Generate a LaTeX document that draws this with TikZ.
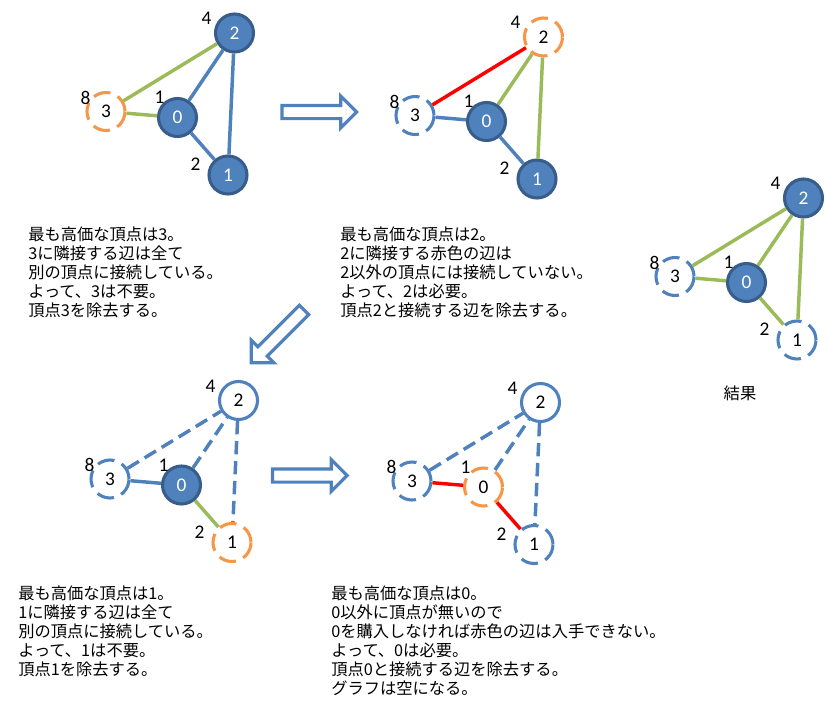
\documentclass[tikz,border=0pt]{standalone}
\usepackage{fontspec}
\setmainfont{Noto Sans CJK JP}
\newfontfamily\numfont{Carlito}
\usepackage{tikz}
\usetikzlibrary{shapes.arrows}
\definecolor{vblue}{HTML}{4F81BD}
\definecolor{vdark}{HTML}{385D8A}
\definecolor{vorange}{HTML}{F79646}
\definecolor{vgreen}{HTML}{9BBB59}
\definecolor{vred}{HTML}{FF0000}

\begin{document}
\begin{tikzpicture}[
    x=0.75pt,
    y=-0.75pt,
    vertex/.style={
        circle,
        minimum size=28.5pt,
        inner sep=0pt,
        line width=2.3pt,
        font=\numfont\fontsize{14.5}{16}\selectfont
    },
    bought/.style={vertex, draw=vdark, fill=vblue, text=white},
    kept/.style={vertex, draw=vblue, fill=white},
    gone/.style={vertex, draw=vblue, fill=white, dash pattern=on 13pt off 6pt},
    focus/.style={vertex, draw=vorange, fill=white, dash pattern=on 13pt off 6pt},
    weight/.style={inner sep=0pt, font=\numfont\fontsize{14.5}{16}\selectfont},
    blueedge/.style={vblue, line width=2.6pt},
    greenedge/.style={vgreen, line width=2.6pt},
    rededge/.style={vred, line width=2.6pt},
    dropedge/.style={vblue, line width=2.6pt, dash pattern=on 10pt off 5pt},
    stepnote/.style={
        anchor=north west,
        inner sep=0pt,
        align=left,
        font=\fontsize{12.2}{14.25}\selectfont
    },
    bigarrow/.style={
        single arrow,
        draw=vblue,
        fill=white,
        line width=2.4pt,
        inner xsep=0pt,
        inner ysep=3.75pt,
        minimum height=56pt,
        single arrow head extend=7pt
    }
]
\useasboundingbox (0,0) rectangle (826,719);

% step 1: vertex 3
\begin{scope}[shift={(177.5,117.5)}, name prefix=a-]
\node[bought] (v0) at (0,0) {0};
\node[bought] (v1) at (50.5,57.5) {1};
\node[bought] (v2) at (57,-84.5) {2};
\node[focus] (v3) at (-71.5,-6) {3};
\node[weight] (w0) at (-18,-20) {1};
\node[weight] (w1) at (18,47) {2};
\node[weight] (w2) at (29,-99) {4};
\node[weight] (w3) at (-92,-20) {8};
\draw[greenedge] (v3) -- (v2);
\draw[greenedge] (v3) -- (v0);
\draw[blueedge] (v0) -- (v2);
\draw[blueedge] (v2) -- (v1);
\draw[blueedge] (v0) -- (v1);
\end{scope}

% step 2: vertex 2
\begin{scope}[shift={(486.5,121.5)}, name prefix=b-]
\node[bought] (v0) at (0,0) {0};
\node[bought] (v1) at (50.5,57.5) {1};
\node[focus] (v2) at (57,-84.5) {2};
\node[gone] (v3) at (-71.5,-6) {3};
\node[weight] (w0) at (-18,-20) {1};
\node[weight] (w1) at (18,47) {2};
\node[weight] (w2) at (29,-99) {4};
\node[weight] (w3) at (-92,-20) {8};
\draw[rededge] (v3) -- (v2);
\draw[greenedge] (v2) -- (v0);
\draw[greenedge] (v2) -- (v1);
\draw[blueedge] (v3) -- (v0);
\draw[blueedge] (v0) -- (v1);
\end{scope}

% result
\begin{scope}[shift={(746.5,282.5)}, name prefix=c-]
\node[bought] (v0) at (0,0) {0};
\node[gone] (v1) at (50.5,57.5) {1};
\node[bought] (v2) at (57,-84.5) {2};
\node[gone] (v3) at (-71.5,-6) {3};
\node[weight] (w0) at (-18,-20) {1};
\node[weight] (w1) at (18,47) {2};
\node[weight] (w2) at (29,-99) {4};
\node[weight] (w3) at (-92,-20) {8};
\draw[greenedge] (v3) -- (v2);
\draw[greenedge] (v3) -- (v0);
\draw[greenedge] (v2) -- (v0);
\draw[greenedge] (v2) -- (v1);
\draw[greenedge] (v0) -- (v1);
\end{scope}
\node (result) at (740,393) {\fontsize{12.2}{14.25}\selectfont 結果};

% step 3: vertex 1
\begin{scope}[shift={(181.5,485)}, name prefix=d-]
\node[bought] (v0) at (0,0) {0};
\node[focus] (v1) at (50.5,57.5) {1};
\node[kept] (v2) at (57,-84.5) {2};
\node[gone] (v3) at (-71.5,-6) {3};
\node[weight] (w0) at (-18,-20) {1};
\node[weight] (w1) at (18,47) {2};
\node[weight] (w2) at (29,-99) {4};
\node[weight] (w3) at (-92,-20) {8};
\draw[dropedge] (v3) -- (v2);
\draw[dropedge] (v0) -- (v2);
\draw[dropedge] (v2) -- (v1);
\draw[blueedge] (v3) -- (v0);
\draw[greenedge] (v0) -- (v1);
\end{scope}

% step 4: vertex 0
\begin{scope}[shift={(483.5,487)}, name prefix=e-]
\node[focus] (v0) at (0,0) {0};
\node[gone] (v1) at (50.5,57.5) {1};
\node[kept] (v2) at (57,-84.5) {2};
\node[gone] (v3) at (-71.5,-6) {3};
\node[weight] (w0) at (-18,-20) {1};
\node[weight] (w1) at (18,47) {2};
\node[weight] (w2) at (29,-99) {4};
\node[weight] (w3) at (-92,-20) {8};
\draw[dropedge] (v3) -- (v2);
\draw[dropedge] (v0) -- (v2);
\draw[dropedge] (v2) -- (v1);
\draw[rededge] (v3) -- (v0);
\draw[rededge] (v0) -- (v1);
\end{scope}

% arrows
\node[bigarrow] (go1) at (316,112) {};
\node[bigarrow, rotate=225] (go2) at (280,334) {};
\node[bigarrow] (go3) at (306.5,475.5) {};

% notes
\node[stepnote] (t1) at (28,227)
{最も高価な頂点は3。\\3に隣接する辺は全て\\別の頂点に接続している。\\よって、3は不要。\\頂点3を除去する。};
\node[stepnote] (t2) at (340,227)
{最も高価な頂点は2。\\2に隣接する赤色の辺は\\2以外の頂点には接続していない。\\よって、2は必要。\\頂点2と接続する辺を除去する。};
\node[stepnote] (t3) at (18,586)
{最も高価な頂点は1。\\1に隣接する辺は全て\\別の頂点に接続している。\\よって、1は不要。\\頂点1を除去する。};
\node[stepnote] (t4) at (331,586)
{最も高価な頂点は0。\\0以外に頂点が無いので\\0を購入しなければ赤色の辺は入手できない。\\よって、0は必要。\\頂点0と接続する辺を除去する。\\グラフは空になる。};

\end{tikzpicture}
\end{document}
